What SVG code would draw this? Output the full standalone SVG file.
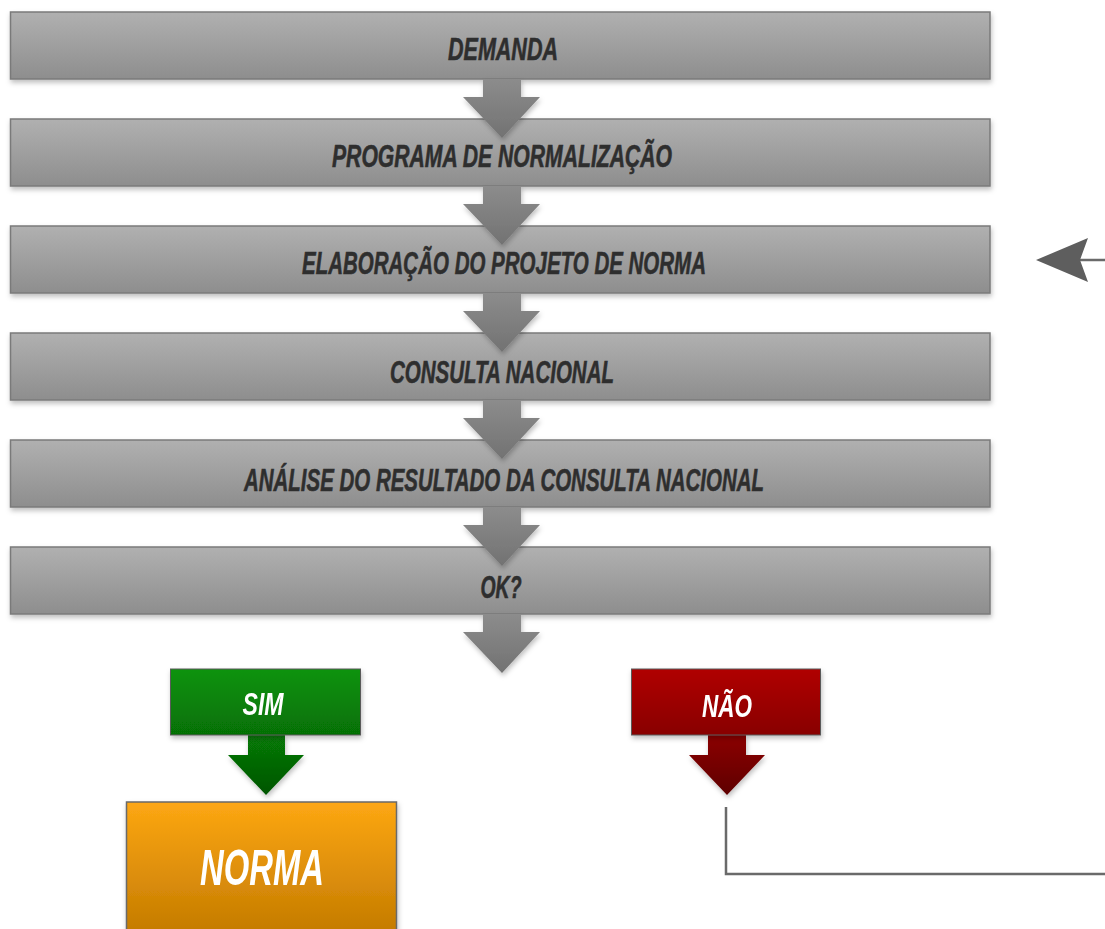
<svg xmlns="http://www.w3.org/2000/svg" width="1105" height="929" viewBox="0 0 1105 929">
<style>
.bar{fill:url(#gGray);stroke:#7a7a7a;stroke-width:1.5}
.lbl{font-family:"Liberation Sans Narrow","Liberation Sans",Arial,sans-serif;font-weight:bold;font-style:italic;font-size:32px;fill:#2e2e2e;text-anchor:middle;stroke:#2e2e2e;stroke-width:0.6}
.wl{font-family:"Liberation Sans Narrow","Liberation Sans",Arial,sans-serif;font-weight:bold;font-style:italic;fill:#ffffff;text-anchor:middle}
.garr{fill:url(#gArr)}
.line{fill:none;stroke:#6a6a6a;stroke-width:2.5}
</style>
<defs>
<linearGradient id="gGray" x1="0" y1="0" x2="0" y2="1"><stop offset="0" stop-color="#b0b0b0"/><stop offset="1" stop-color="#8e8e8e"/></linearGradient>
<linearGradient id="gArr" x1="0" y1="0" x2="0" y2="1"><stop offset="0" stop-color="#8c8c8c"/><stop offset="1" stop-color="#727272"/></linearGradient>
<linearGradient id="gGreen" x1="0" y1="0" x2="0" y2="1"><stop offset="0" stop-color="#0b930b"/><stop offset="1" stop-color="#067006"/></linearGradient>
<linearGradient id="gGreenA" x1="0" y1="0" x2="0" y2="1"><stop offset="0" stop-color="#077a07"/><stop offset="1" stop-color="#045504"/></linearGradient>
<linearGradient id="gRed" x1="0" y1="0" x2="0" y2="1"><stop offset="0" stop-color="#b00000"/><stop offset="1" stop-color="#880000"/></linearGradient>
<linearGradient id="gRedA" x1="0" y1="0" x2="0" y2="1"><stop offset="0" stop-color="#8c0000"/><stop offset="1" stop-color="#5e0000"/></linearGradient>
<linearGradient id="gOrange" x1="0" y1="0" x2="0" y2="1"><stop offset="0" stop-color="#fda713"/><stop offset="1" stop-color="#c07800"/></linearGradient>
<filter id="sh" x="-5%" y="-20%" width="110%" height="150%"><feDropShadow dx="1" dy="3" stdDeviation="2.5" flood-color="#000" flood-opacity="0.25"/></filter>
</defs>
<rect width="1105" height="929" fill="#ffffff"/>
<g id="n1" filter="url(#sh)"><rect class="bar" x="10.5" y="12" width="979.5" height="67"/></g>
<g id="n2" filter="url(#sh)"><rect class="bar" x="10.5" y="119" width="979.5" height="67"/></g>
<g id="n3" filter="url(#sh)"><rect class="bar" x="10.5" y="226" width="979.5" height="67"/></g>
<g id="n4" filter="url(#sh)"><rect class="bar" x="10.5" y="333" width="979.5" height="67"/></g>
<g id="n5" filter="url(#sh)"><rect class="bar" x="10.5" y="440" width="979.5" height="67"/></g>
<g id="n6" filter="url(#sh)"><rect class="bar" x="10.5" y="547" width="979.5" height="67"/></g>
<g id="connectors">
<g filter="url(#sh)">
<path class="garr" d="M483,79 H521 V97 H540 L502,138 L463,97 H483 Z"/>
<path class="garr" d="M483,186 H521 V204 H540 L502,245 L463,204 H483 Z"/>
<path class="garr" d="M483,293 H521 V311 H540 L502,352 L463,311 H483 Z"/>
<path class="garr" d="M483,400 H521 V418 H540 L502,459 L463,418 H483 Z"/>
<path class="garr" d="M483,507 H521 V525 H540 L502,566 L463,525 H483 Z"/>
<path class="garr" d="M483,614 H521 V632 H540 L502,673 L463,632 H483 Z"/>
<path fill="url(#gGreenA)" d="M248,735 H285 V755 H304 L266,795 L228,755 H248 Z"/>
<path fill="url(#gRedA)" d="M708,735 H746 V755 H765 L727,795 L689,755 H708 Z"/>
</g>
<path class="line" d="M726,807 V874 H1105"/>
<line class="line" x1="1080" y1="260" x2="1105" y2="260"/>
<polygon points="1036,260 1088,238 1080,260 1088,282" fill="#5e5e5e"/>
</g>
<g id="t1"><text class="lbl" x="503" y="60" textLength="110" lengthAdjust="spacingAndGlyphs">DEMANDA</text></g>
<g id="t2"><text class="lbl" x="502" y="167" textLength="340" lengthAdjust="spacingAndGlyphs">PROGRAMA DE NORMALIZAÇÃO</text></g>
<g id="t3"><text class="lbl" x="504" y="274" textLength="404" lengthAdjust="spacingAndGlyphs">ELABORAÇÃO DO PROJETO DE NORMA</text></g>
<g id="t4"><text class="lbl" x="502" y="383" textLength="224" lengthAdjust="spacingAndGlyphs">CONSULTA NACIONAL</text></g>
<g id="t5"><text class="lbl" x="504" y="491" textLength="520" lengthAdjust="spacingAndGlyphs">ANÁLISE DO RESULTADO DA CONSULTA NACIONAL</text></g>
<g id="t6"><text class="lbl" x="501" y="598" textLength="41" lengthAdjust="spacingAndGlyphs">OK?</text></g>
<g id="sim" filter="url(#sh)">
<rect x="170.5" y="669" width="190" height="66" fill="url(#gGreen)" stroke="#5a5a5a" stroke-width="1"/>
<text class="wl" x="263" y="715" font-size="31" textLength="41" lengthAdjust="spacingAndGlyphs">SIM</text>
</g>
<g id="nao" filter="url(#sh)">
<rect x="631.5" y="669" width="189" height="66" fill="url(#gRed)" stroke="#5a5a5a" stroke-width="1"/>
<text class="wl" x="727" y="717" font-size="31" textLength="50" lengthAdjust="spacingAndGlyphs">NÃO</text>
</g>
<g id="norma" filter="url(#sh)">
<rect x="126.5" y="802" width="270" height="140" fill="url(#gOrange)" stroke="#6a6a6a" stroke-width="1.5"/>
<text class="wl" x="262" y="885" font-size="50" textLength="124" lengthAdjust="spacingAndGlyphs">NORMA</text>
</g>
</svg>
